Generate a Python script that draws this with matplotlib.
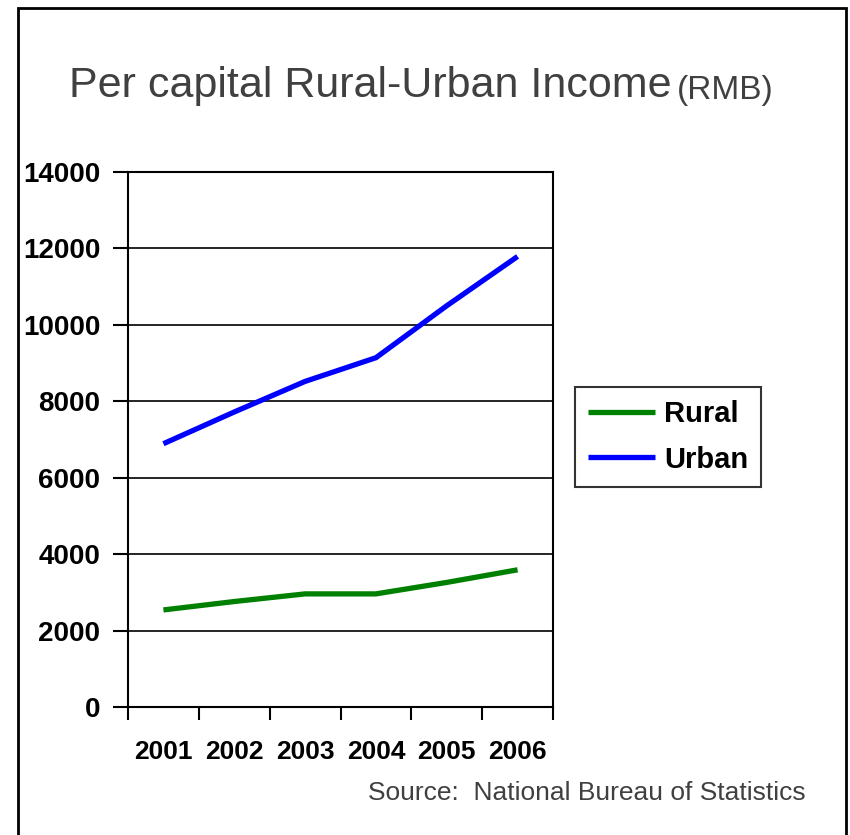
import matplotlib
matplotlib.use("Agg")
import matplotlib.pyplot as plt
from matplotlib import font_manager
from matplotlib.patches import Rectangle

years = ["2001", "2002", "2003", "2004", "2005", "2006"]
rural = [2540, 2760, 2960, 2960, 3260, 3590]
urban = [6890, 7720, 8520, 9140, 10500, 11790]
y_ticks = [0, 2000, 4000, 6000, 8000, 10000, 12000, 14000]

names = {f.name for f in font_manager.fontManager.ttflist}
narrow = "Liberation Sans Narrow" if "Liberation Sans Narrow" in names else "Liberation Sans"
plt.rcParams["font.family"] = [narrow, "DejaVu Sans"]

fig = plt.figure(figsize=(8.5, 8.35), dpi=100)
ax = fig.add_axes([128 / 850, 1 - 707 / 835, 425 / 850, 535 / 835])

x = list(range(len(years)))
ax.plot(x, rural, color="#008000", lw=3.8, label="Rural", solid_capstyle="butt")
ax.plot(x, urban, color="#0000ff", lw=3.8, label="Urban", solid_capstyle="butt")

ax.set_xlim(-0.5, len(years) - 0.5)
ax.set_ylim(0, 14000)
ax.set_yticks(y_ticks)
ax.set_yticklabels([str(v) for v in y_ticks], fontsize=20, fontweight="bold")
# ticks sit between categories, labels at the category centres
ax.set_xticks([i - 0.5 for i in range(len(years) + 1)])
ax.set_xticklabels([])
ax.set_xticks(x, minor=True)
ax.set_xticklabels(years, minor=True, fontsize=19, fontweight="bold")
ax.tick_params(axis="x", which="major", length=9, width=1.5, direction="out")
ax.tick_params(axis="x", which="minor", length=0, pad=24)
ax.tick_params(axis="y", length=11, width=1.5, direction="out", pad=9)
ax.grid(axis="y", color="black", lw=1.2)
ax.set_axisbelow(True)
for s in ax.spines.values():
    s.set_linewidth(1.5)

leg = ax.legend(loc="center left", bbox_to_anchor=(1.052, 0.505), borderaxespad=0,
                frameon=True, fancybox=False, edgecolor="black",
                handlelength=2.3, handletextpad=0.3, borderpad=0.45,
                labelspacing=0.6, prop={"weight": "bold", "size": 21})
leg.get_frame().set_linewidth(1.5)

t1 = fig.text(69 / 850, 1 - 97 / 835, "Per capital Rural-Urban Income", fontsize=31,
              color="#404040", ha="left", va="baseline")
ax.annotate("(RMB)", xy=(1, 0), xycoords=t1, xytext=(4, 0), textcoords="offset points",
            fontsize=24, color="#404040", ha="left", va="bottom",
            annotation_clip=False)
fig.text(806 / 850, 1 - 800 / 835, "Source:  National Bureau of Statistics",
         fontsize=19, color="#404040", ha="right", va="baseline")

fig.patches.append(Rectangle((18 / 850, -0.05), 828 / 850, 1.05 - 8 / 835,
                             transform=fig.transFigure, fill=False,
                             edgecolor="black", lw=2))

fig.savefig("out.png", dpi=100)
